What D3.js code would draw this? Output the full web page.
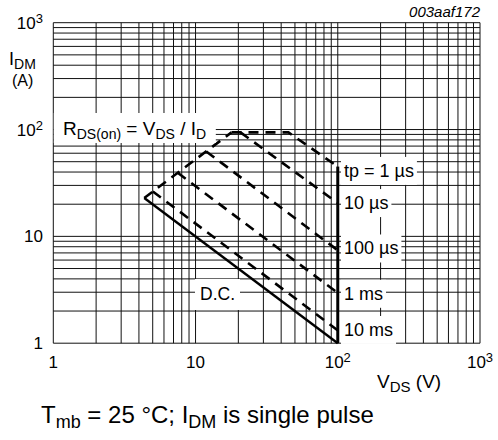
<!DOCTYPE html>
<html>
<head>
<meta charset="utf-8">
<script src="https://cdn.jsdelivr.net/npm/d3@7/dist/d3.min.js"></script>
<style>
  body { margin: 0; background: #fff; }
  svg { display: block; font-family: "Liberation Sans", Arial, sans-serif; }
</style>
</head>
<body>
<svg id="chart" width="498" height="440"></svg>
<script>
// ---- data ----
const xTickValues = [1, 10, 100, 1000];
const xTickBase = ["1", "10", "10", "10"];
const xTickSup = ["", "", "2", "3"];
const yTickValues = [1, 10, 100, 1000];
const yTickBase = ["1", "10", "10", "10"];
const yTickSup = ["", "", "2", "3"];

// [V_DS (V), I_DM (A)]
const dcLine = [[4.36, 22.9], [100, 1]];
const rdsLine = [[4.36, 22.9], [17.9, 94]];
const tp1us = [[17.9, 94], [45, 94], [100, 45]];
const tp10us = [[20.7, 94], [100, 20.5]];
const tp100us = [[11.9, 62.4], [100, 7.4]];
const tp1ms = [[7.49, 39.4], [100, 2.95]];
const tp10ms = [[5.01, 26.3], [100, 1.32]];
const vdsLimit = [[100, 45], [100, 1]];

const curveLabels = ["tp = 1 µs", "10 µs", "100 µs", "1 ms", "10 ms"];
const curveLabelI = [41, 20.5, 7.7, 2.9, 1.33];

// ---- chart ----
const svg = d3.select("#chart");
const x = d3.scaleLog().domain([1, 1000]).range([53.3, 480]);
const y = d3.scaleLog().domain([1, 1000]).range([343.2, 22.7]);

const gridVals = [];
[1, 10, 100].forEach(d => { for (let k = 1; k <= 9; k++) gridVals.push(k * d); });
gridVals.push(1000);

const grid = svg.append("g").attr("stroke", "#111").attr("stroke-width", 1);
grid.selectAll("line.v").data(gridVals).join("line").attr("class", "v")
  .attr("x1", d => x(d)).attr("x2", d => x(d))
  .attr("y1", y(1000)).attr("y2", y(1));
grid.selectAll("line.h").data(gridVals).join("line").attr("class", "h")
  .attr("y1", d => y(d)).attr("y2", d => y(d))
  .attr("x1", x(1)).attr("x2", x(1000));

// axes (tick labels)
const xAxis = d3.axisBottom(x).tickValues(xTickValues).tickSize(0).tickFormat("");
svg.append("g").attr("transform", `translate(0,${y(1)})`).call(xAxis)
  .call(g => g.select(".domain").remove());
const yAxis = d3.axisLeft(y).tickValues(yTickValues).tickSize(0).tickFormat("");
svg.append("g").attr("transform", `translate(${x(1)},0)`).call(yAxis)
  .call(g => g.select(".domain").remove());

const xl = svg.append("g").attr("font-size", 17).attr("text-anchor", "middle");
xTickValues.forEach((v, i) => {
  const t = xl.append("text").attr("x", x(v)).attr("y", 368);
  t.append("tspan").text(xTickBase[i]);
  if (xTickSup[i]) t.append("tspan").attr("font-size", 13).attr("dy", -6).text(xTickSup[i]);
});
const yl = svg.append("g").attr("font-size", 17).attr("text-anchor", "end");
yTickValues.forEach((v, i) => {
  const t = yl.append("text").attr("x", 43).attr("y", y(v) + 6);
  t.append("tspan").text(yTickBase[i]);
  if (yTickSup[i]) t.append("tspan").attr("font-size", 13).attr("dy", -6).text(yTickSup[i]);
});

// curves
const line = d3.line().x(d => x(d[0])).y(d => y(d[1]));
const curves = svg.append("g").attr("fill", "none").attr("stroke", "#000");
[rdsLine, tp1us, tp10us, tp100us, tp1ms, tp10ms].forEach(c => {
  curves.append("path").datum(c).attr("d", line)
    .attr("stroke-width", 2.6).attr("stroke-dasharray", "10,7");
});
curves.append("path").datum(dcLine).attr("d", line).attr("stroke-width", 2.4);
curves.append("path").datum(vdsLimit).attr("d", line).attr("stroke-width", 3);

// labels with white boxes
function boxLabel(g, tx, ty, padX, padTop, padBot, build) {
  const t = g.append("text").attr("x", tx).attr("y", ty);
  build(t);
  const b = t.node().getBBox();
  g.insert("rect", "text").attr("x", b.x - padX).attr("y", b.y - padTop)
    .attr("width", b.width + 2 * padX).attr("height", b.height + padTop + padBot)
    .attr("fill", "#fff");
  return t;
}

const lab = svg.append("g").attr("font-size", 18).attr("fill", "#000");
curveLabels.forEach((s, i) => {
  const g = lab.append("g");
  boxLabel(g, 344, y(curveLabelI[i]) + 6, 3, 4, 4, t => t.text(s));
});

// R_DS(on) label
{
  const g = svg.append("g").attr("font-size", 19);
  g.append("rect").attr("x", x(1) + 0.5).attr("y", 113).attr("width", 162).attr("height", 30).attr("fill", "#fff");
  const t = g.append("text").attr("x", 63).attr("y", 135);
  t.append("tspan").text("R");
  t.append("tspan").attr("font-size", 14).attr("dy", 4).text("DS(on)");
  t.append("tspan").attr("dy", -4).text(" = V");
  t.append("tspan").attr("font-size", 14).attr("dy", 4).text("DS");
  t.append("tspan").attr("dy", -4).text(" / I");
  t.append("tspan").attr("font-size", 14).attr("dy", 4).text("D");
}

// D.C. label
{
  const g = svg.append("g").attr("font-size", 17.5);
  boxLabel(g, 200, 300, 5, 5, 6, t => t.text("D.C."));
}

// Y title
{
  const t = svg.append("text").attr("x", 9).attr("y", 65).attr("font-size", 18);
  t.append("tspan").text("I");
  t.append("tspan").attr("font-size", 14).attr("dy", 4).text("DM");
  svg.append("text").attr("x", 12).attr("y", 86).attr("font-size", 16).text("(A)");
}

// X title
{
  const t = svg.append("text").attr("x", 377).attr("y", 388).attr("font-size", 19);
  t.append("tspan").text("V");
  t.append("tspan").attr("font-size", 15).attr("dy", 4).text("DS");
  t.append("tspan").attr("dy", -4).text(" (V)");
}

// figure id
svg.append("text").attr("x", 480).attr("y", 17).attr("text-anchor", "end")
  .attr("font-size", 15).attr("font-style", "italic").text("003aaf172");

// caption
{
  const t = svg.append("text").attr("x", 41).attr("y", 423).attr("font-size", 24);
  t.append("tspan").text("T");
  t.append("tspan").attr("font-size", 18).attr("dy", 5).text("mb");
  t.append("tspan").attr("dy", -5).text(" = 25 °C; I");
  t.append("tspan").attr("font-size", 18).attr("dy", 5).text("DM");
  t.append("tspan").attr("dy", -5).text(" is single pulse");
}
</script>
</body>
</html>
